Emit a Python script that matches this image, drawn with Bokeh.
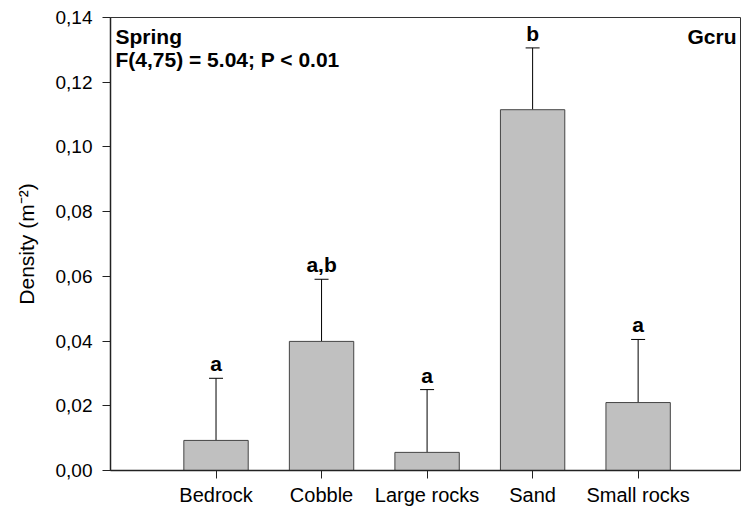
from bokeh.plotting import figure
from bokeh.models import FixedTicker, CustomJSTickFormatter, Range1d, Label, ColumnDataSource
from bokeh.core.properties import value
from bokeh.embed import file_html
from bokeh.resources import INLINE

# ---- data ----
categories = ["Bedrock", "Cobble", "Large rocks", "Sand", "Small rocks"]
means = [0.0093, 0.0399, 0.0056, 0.1115, 0.0210]
errors = [0.0192, 0.0192, 0.0194, 0.0191, 0.0195]
letters = ["a", "a,b", "a", "b", "a"]
y_ticks = [0.00, 0.02, 0.04, 0.06, 0.08, 0.10, 0.12, 0.14]

xs = list(range(1, len(categories) + 1))
tops = [m + e for m, e in zip(means, errors)]
src = ColumnDataSource(dict(x=xs, mean=means, top=tops, letter=letters,
                            base=[0] * len(xs)))

FONT = "Liberation Sans"
XMAX = 5.97

p = figure(width=742, height=508, output_backend="svg", toolbar_location=None,
           x_range=Range1d(0, XMAX), y_range=Range1d(0, 0.14),
           min_border_left=110, min_border_right=2, min_border_top=17,
           min_border_bottom=38)
p.background_fill_color = "white"
p.border_fill_color = "white"
p.outline_line_color = "#333333"
p.outline_line_width = 1
p.xgrid.visible = False
p.ygrid.visible = False

# error bars
p.segment(x0="x", y0="mean", x1="x", y1="top", source=src, line_color="black", line_width=1)
p.scatter(x="x", y="top", source=src, marker="dash", size=14, line_color="black", line_width=1)

# bars
p.vbar(x="x", top="mean", bottom="base", width=0.61, source=src,
       fill_color="#c0c0c0", line_color="#444444", line_width=1)

# significance letters
p.text(x="x", y="top", text="letter", source=src, text_align="center",
       text_baseline="bottom", y_offset=-3, text_font=value(FONT),
       text_font_size="21px", text_font_style="bold", text_color="black")

# header texts
p.add_layout(Label(x=0, y=0.14, x_offset=5, y_offset=-7, text="Spring",
                   text_baseline="top", text_font=FONT, text_font_size="21px",
                   text_font_style="bold", text_color="black"))
p.add_layout(Label(x=0, y=0.14, x_offset=5, y_offset=-30, text="F(4,75) = 5.04; P < 0.01",
                   text_baseline="top", text_font=FONT, text_font_size="21px",
                   text_font_style="bold", text_color="black"))
p.add_layout(Label(x=XMAX, y=0.14, x_offset=-4, y_offset=-7, text="Gcru",
                   text_align="right", text_baseline="top", text_font=FONT,
                   text_font_size="21px", text_font_style="bold", text_color="black"))

# x axis
p.xaxis.ticker = FixedTicker(ticks=xs)
p.xaxis.major_label_overrides = {x: c for x, c in zip(xs, categories)}
p.xaxis.minor_tick_line_color = None
p.xaxis.major_tick_in = 0
p.xaxis.major_tick_out = 8
p.xaxis.major_label_standoff = 5
p.xaxis.major_label_text_font = FONT
p.xaxis.major_label_text_font_size = "20px"
p.xaxis.major_label_text_color = "black"
p.xaxis.axis_line_width = 1.5
p.xaxis.axis_line_color = "#222222"
p.xaxis.major_tick_line_color = "#222222"

# y axis
p.yaxis.ticker = FixedTicker(ticks=y_ticks)
p.yaxis.formatter = CustomJSTickFormatter(code="return tick.toFixed(2).replace('.', ',');")
p.yaxis.minor_tick_line_color = None
p.yaxis.major_tick_in = 0
p.yaxis.major_tick_out = 8
p.yaxis.major_label_standoff = 10
p.yaxis.major_label_text_font = FONT
p.yaxis.major_label_text_font_size = "19px"
p.yaxis.major_label_text_color = "black"
p.yaxis.axis_line_width = 1.5
p.yaxis.axis_line_color = "#222222"
p.yaxis.major_tick_line_color = "#222222"
p.yaxis.axis_label = "Density (m\u207b\u00b2)"
p.yaxis.axis_label_text_font = FONT
p.yaxis.axis_label_text_font_size = "21px"
p.yaxis.axis_label_text_font_style = "normal"
p.yaxis.axis_label_text_color = "black"
p.yaxis.axis_label_standoff = 15

open("out.html", "w").write(file_html(p, INLINE))
